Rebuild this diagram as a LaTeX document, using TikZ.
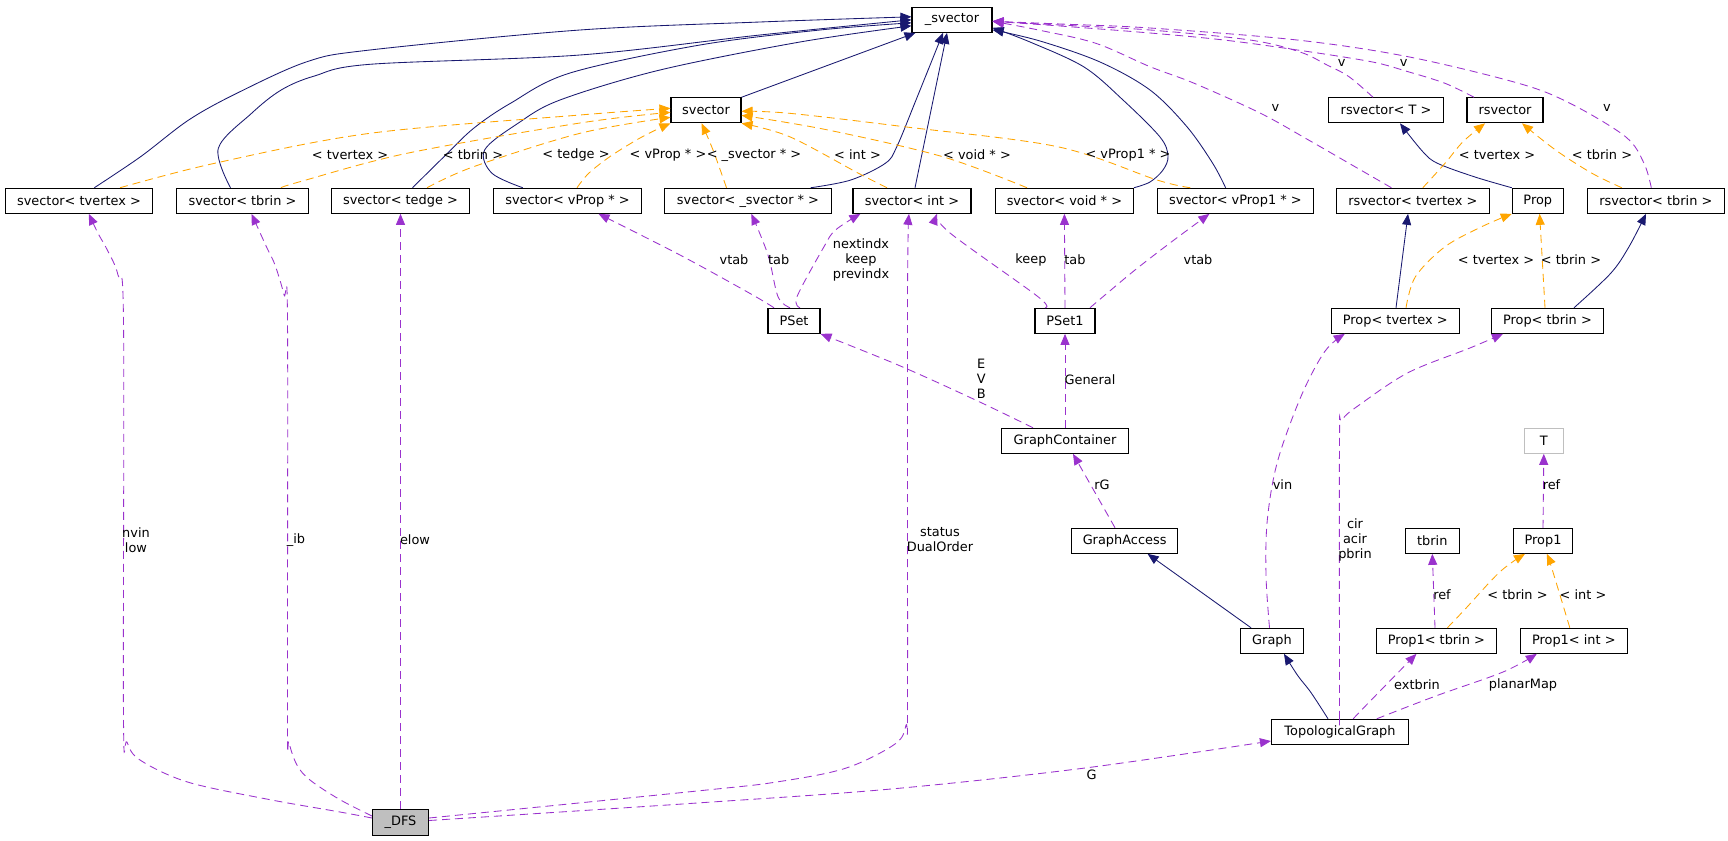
\documentclass[tikz,border=0pt]{standalone}
\usepackage{fontspec}
\setmainfont{DejaVu Sans}
\usetikzlibrary{arrows.meta}
\definecolor{inhc}{HTML}{191970}
\definecolor{tplc}{HTML}{FFA500}
\definecolor{usec}{HTML}{9A32CD}
\definecolor{grayc}{HTML}{BFBFBF}
\begin{document}
\begin{tikzpicture}[x=1pt,y=-1pt,
 cls/.style={draw=black,line width=1.1pt,minimum height=25pt,inner sep=0pt,font=\fontsize{12.9}{15}\selectfont},
 lbl/.style={font=\fontsize{12.9}{15}\selectfont,inner sep=0pt,align=center},
 inh/.style={draw=inhc,line width=0.85pt,-{Triangle[length=11pt,width=9pt]}},
 tpl/.style={draw=tplc,line width=0.85pt,dash pattern=on 8pt off 5pt,-{Triangle[length=11pt,width=9pt]}},
 use/.style={draw=usec,line width=0.85pt,dash pattern=on 8pt off 5pt,-{Triangle[length=11pt,width=9pt]}},
 sm/.style={smooth,tension=0.55}
]
\useasboundingbox[fill=white] (0,0) rectangle (1728,840);
% nodes
\node[cls,minimum width=80pt] (svec) at (952,19.8) {\_svector};
\node[cls,minimum width=70pt] (sv) at (706,110.3) {svector};
\node[cls,minimum width=115pt] (rsT) at (1386,110.3) {rsvector< T >};
\node[cls,minimum width=76pt] (rs) at (1505,110.3) {rsvector};
\node[cls,minimum width=147pt] (svtv) at (79,200.8) {svector< tvertex >};
\node[cls,minimum width=132pt] (svtb) at (242.5,200.8) {svector< tbrin >};
\node[cls,minimum width=138pt] (svte) at (400.5,200.8) {svector< tedge >};
\node[cls,minimum width=148pt] (svvp) at (567.5,200.8) {svector< vProp * >};
\node[cls,minimum width=167pt] (svsv) at (748,200.8) {svector< \_svector * >};
\node[cls,minimum width=118pt] (svint) at (912,200.8) {svector< int >};
\node[cls,minimum width=138pt] (svvoid) at (1064.4,200.8) {svector< void * >};
\node[cls,minimum width=156pt] (svvp1) at (1235.4,200.8) {svector< vProp1 * >};
\node[cls,minimum width=152.6pt] (rstv) at (1412.8,200.8) {rsvector< tvertex >};
\node[cls,minimum width=51pt] (prop) at (1537.8,200.8) {Prop};
\node[cls,minimum width=137pt] (rstb) at (1655.8,200.8) {rsvector< tbrin >};
\node[cls,minimum width=52pt] (pset) at (794,320.8) {PSet};
\node[cls,minimum width=60pt] (pset1) at (1065,320.8) {PSet1};
\node[cls,minimum width=128pt] (proptv) at (1395.3,320.8) {Prop< tvertex >};
\node[cls,minimum width=112pt] (proptb) at (1547.4,320.8) {Prop< tbrin >};
\node[cls,minimum width=127pt] (gc) at (1065,440.8) {GraphContainer};
\node[cls,draw=grayc,minimum width=39pt] (T) at (1543.8,440.8) {T};
\node[cls,minimum width=106pt] (ga) at (1124.6,540.8) {GraphAccess};
\node[cls,minimum width=54pt] (tbrin) at (1432.3,540.8) {tbrin};
\node[cls,minimum width=59pt] (prop1) at (1543,540.8) {Prop1};
\node[cls,minimum width=63pt] (graph) at (1272,640.8) {Graph};
\node[cls,minimum width=120pt] (p1tb) at (1436.4,640.8) {Prop1< tbrin >};
\node[cls,minimum width=107pt] (p1int) at (1573.8,640.8) {Prop1< int >};
\node[cls,minimum width=137pt] (tg) at (1340,731.8) {TopologicalGraph};
\node[cls,fill=grayc,minimum width=56pt,minimum height=26pt] (dfs) at (400.5,822.5) {\_DFS};
% inheritance (blue)
\draw[inh] plot[sm] coordinates {([xshift=15.3pt]svtv.north) (140.6,156.7) (188.7,120) (236.8,93.3) (307,61.7) (370,50) (580,30) (760,22) ([yshift=3pt]svec.west)};
\draw[inh] plot[sm] coordinates {([xshift=-12pt]svtb.north) (218.3,148.3) (251.6,113.3) (281.2,90) (314.5,76) (370,64.3) (580,55) (760,35) (svec.west)};
\draw[inh] plot[sm] coordinates {([xshift=12pt]svte.north) (444,156.7) (473.6,128.3) (510.5,103.3) (570,73) (700,45) (820,30) ([yshift=-3pt]svec.west)};
\draw[inh] plot[sm] coordinates {([xshift=-44.7pt]svvp.north) (492,173.3) (484.6,150) (518,123.3) (560,100) (660,70) (800,42) ([yshift=-6pt]svec.west)};
\draw[inh] (sv.north east) -- ([xshift=4pt]svec.south west);
\draw[inh] plot[sm] coordinates {([xshift=62.7pt]svsv.north) (850.8,180) (885.3,163.3) (896.8,146.7) (916,100) ([xshift=-9pt]svec.south)};
\draw[inh] ([xshift=3pt]svint.north) -- ([xshift=-5pt]svec.south);
\draw[inh] plot[sm] coordinates {(svvoid.north east) (1150,182) (1163,170) (1168,156) (1160,137) (1123,100) (1084,67) (1030,42) ([yshift=-8pt]svec.east)};
\draw[inh] plot[sm] coordinates {([xshift=-9.8pt]svvp1.north) (1212.7,163.3) (1186.9,126.7) (1150,90) (1100,62) (1040,41) ([yshift=-10pt]svec.east)};
\draw[inh] plot[sm] coordinates {(prop.north west) (1474,176.7) (1437.5,163.3) (1422.8,151.7) ([xshift=14pt]rsT.south)};
\draw[inh] ([xshift=0.7pt]proptv.north) -- ([xshift=-4.8pt]rstv.south);
\draw[inh] plot[sm] coordinates {([xshift=26.6pt]proptb.north) (1610.7,273.3) (1629,246.7) ([xshift=-9.8pt]rstb.south)};
\draw[inh] ([xshift=-21pt]graph.north) -- ([xshift=23pt]ga.south);
\draw[inh] plot[sm] coordinates {([xshift=-12pt]tg.north) (1311,692.6) (1297.6,675.4) ([xshift=12pt]graph.south)};
% template instances (orange)
\draw[tpl] plot[sm] coordinates {([xshift=41pt]svtv.north) (214.6,163.3) (370,133.3) (580,115) ([yshift=2pt]sv.west)};
\draw[tpl] plot[sm] coordinates {([xshift=38.5pt]svtb.north) (300,181.7) (407,153.3) (580,123) ([yshift=-2pt]sv.west)};
\draw[tpl] plot[sm] coordinates {([xshift=26.5pt]svte.north) (473.6,166.7) (580,133.3) ([yshift=-7pt]sv.west)};
\draw[tpl] plot[sm] coordinates {([xshift=9.5pt]svvp.north) (588.7,173.3) (609.8,156.7) (636.5,140) (655.7,130) (sv.south west)};
\draw[tpl] plot[sm] coordinates {([xshift=-21.5pt]svsv.north) (713,150) ([xshift=-4.4pt]sv.south)};
\draw[tpl] plot[sm] coordinates {([xshift=-25pt]svint.north) (858.5,173.3) (789.6,136.7) (sv.south east)};
\draw[tpl] plot[sm] coordinates {([xshift=-37.4pt]svvoid.north) (942.7,156.7) (828,130) ([yshift=-5pt]sv.east)};
\draw[tpl] plot[sm] coordinates {([xshift=-45pt]svvp1.north) (1157,180) (1057.5,146.7) (904,126.7) (789.6,113.3) ([yshift=-1pt]sv.east)};
\draw[tpl] plot[sm] coordinates {([xshift=10pt]rstv.north) (1445,163.3) (1463,141.7) ([xshift=-20pt]rs.south)};
\draw[tpl] plot[sm] coordinates {([xshift=-34pt]rstb.north) (1592,173.3) (1555.5,150) ([xshift=17pt]rs.south)};
\draw[tpl] plot[sm] coordinates {([xshift=10.7pt]proptv.north) (1415.4,276.7) (1445,246.7) (1481.7,226.7) (prop.south west)};
\draw[tpl] ([xshift=-2.4pt]proptb.north) -- ([xshift=1.8pt]prop.south);
\draw[tpl] plot[sm] coordinates {([xshift=11pt]p1tb.north) (1464.3,610) (1499.7,572) ([xshift=-18pt]prop1.south)};
\draw[tpl] plot[sm] coordinates {([xshift=-4pt]p1int.north) (1551.9,568.6) ([xshift=3.8pt]prop1.south)};
% usage (purple)
\draw[use] plot[sm] coordinates {([xshift=-13pt]rsT.north) (1349,76.7) (1327,65) (1300,52) (1250,40) (1150,30) (1060,25) ([yshift=-1.5pt]svec.east)};
\draw[use] plot[sm] coordinates {([xshift=-31pt]rs.north) (1445,83.3) (1408,71.7) (1371,61.7) (1297.4,50) (1223.7,40) (1150,33) (1060,26) ([yshift=-1.5pt]svec.east)};
\draw[use] plot[sm] coordinates {([xshift=-4.5pt]rstb.north) (1644,163.3) (1625.5,136.7) (1570,103.3) (1518.6,83.3) (1408,56.7) (1297,40) (1150,28) (1060,24) ([yshift=-1.5pt]svec.east)};
\draw[use] plot[sm] coordinates {([xshift=-21.4pt]rstv.north) (1349,163.3) (1308.5,140) (1260.6,113.3) (1194.2,83.3) (1150,66.7) (1095.8,43.3) (1038.4,30) ([yshift=-1.5pt]svec.east)};
\draw[use] plot[sm] coordinates {([xshift=-20pt]pset.north) (751,294) (680,255) ([xshift=31pt]svvp.south)};
\draw[use] plot[sm] coordinates {([xshift=-4pt]pset.north) (778,296.7) (768,255) ([xshift=3.4pt]svsv.south)};
\draw[use] plot[sm] coordinates {([xshift=6pt]pset.north) (797,296.7) (824,246.7) (835.5,230) ([xshift=-51.6pt]svint.south)};
\draw[use] plot[sm] coordinates {([xshift=-20pt]pset1.north) (1038,296.7) (950,233) ([xshift=25pt]svint.south)};
\draw[use] (pset1.north) -- (svvoid.south);
\draw[use] plot[sm] coordinates {([xshift=25pt]pset1.north) (1103,296.7) (1135,270) (1170,243) ([xshift=-26pt]svvp1.south)};
\draw[use] plot[sm] coordinates {([xshift=-32pt]gc.north) (975.5,400) (899,365.4) (pset.south east)};
\draw[use] (gc.north) -- (pset1.south);
\draw[use] ([xshift=-9.6pt]ga.north) -- ([xshift=8pt]gc.south);
\draw[use] plot[sm] coordinates {([xshift=-2.5pt]graph.north) (1266,575.5) (1267.3,520) (1277.4,461.8) (1301,396.4) (1324.6,351.7) ([xshift=-50.5pt]proptv.south)};
\draw[use] plot[sm] coordinates {([yshift=4.5pt]dfs.west) (340,812) (268,799.3) (187.5,782) (140,760) (127,742) (123.5,718) (123.5,320) (118,275) (107.3,250) (98,233.3) ([xshift=9.8pt]svtv.south)};
\draw[use] plot[sm] coordinates {([yshift=6.5pt]dfs.west) (339.3,799.3) (310,780) (296.9,764.9) (289,742) (287.5,718) (287.5,320) (284,295) (275,265) (266.4,246.7) ([xshift=9pt]svtb.south)};
\draw[use] (dfs.north) -- (svte.south);
\draw[use] plot[sm] coordinates {([yshift=4.5pt]dfs.east) (700,790.7) (776.5,782) (845.4,768.3) (895,744) (906,725) (907.5,700) (907.5,300) ([xshift=-3pt]svint.south)};
\draw[use] plot[sm] coordinates {([yshift=2pt]dfs.east) (700,802.8) (891,789) (1082.7,768.3) ([yshift=-9.2pt]tg.west)};
\draw[use] plot[sm] coordinates {([xshift=-0.5pt]tg.north) (1339.5,700) (1339.5,440) (1342,420) (1361.6,403.3) (1408.8,372.3) (1469.4,348.2) ([xshift=-44.4pt]proptb.south)};
\draw[use] plot[sm] coordinates {([xshift=13.2pt]tg.north) (1368.4,702.9) ([xshift=-20pt]p1tb.south)};
\draw[use] plot[sm] coordinates {([xshift=36.8pt]tg.north) (1435.7,696) (1503,672) ([xshift=-37pt]p1int.south)};
\draw[use] ([xshift=-1.4pt]p1tb.north) -- (tbrin.south);
\draw[use] (prop1.north) -- (T.south);
% labels
\node[lbl] (l1) at (350,155) {< tvertex >};
\node[lbl] (l2) at (473,155) {< tbrin >};
\node[lbl] (l3) at (576,155) {< tedge >};
\node[lbl] (l4) at (668,155) {< vProp * >};
\node[lbl] (l5) at (754,155) {< \_svector * >};
\node[lbl] (l6) at (857.5,155) {< int >};
\node[lbl] (l7) at (977,155) {< void * >};
\node[lbl] (l8) at (1128,155) {< vProp1 * >};
\node[lbl] (l9) at (1497,155) {< tvertex >};
\node[lbl] (l10) at (1602,155) {< tbrin >};
\node[lbl] (l11) at (1496,260) {< tvertex >};
\node[lbl] (l12) at (1571,260) {< tbrin >};
\node[lbl] (l13) at (1517.5,594.4) {< tbrin >};
\node[lbl] (l14) at (1583,594.4) {< int >};
\node[lbl] (v1) at (1341.7,63.3) {v};
\node[lbl] (v2) at (1403.6,63.3) {v};
\node[lbl] (v3) at (1275.3,108.3) {v};
\node[lbl] (v4) at (1607,108.3) {v};
\node[lbl] (u1) at (734,260) {vtab};
\node[lbl] (u2) at (778.7,260) {tab};
\node[lbl] (u3) at (861,260) {nextindx\\keep\\previndx};
\node[lbl] (u4) at (1031,260) {keep};
\node[lbl] (u5) at (1075,260) {tab};
\node[lbl] (u6) at (1198,260) {vtab};
\node[lbl] (u7) at (981.3,379.2) {E\\V\\B};
\node[lbl] (u8) at (1090,380) {General};
\node[lbl] (u9) at (1102,485) {rG};
\node[lbl] (u10) at (1282.5,485) {vin};
\node[lbl] (u11) at (136,540) {nvin\\low};
\node[lbl] (u12) at (296,540) {\_ib};
\node[lbl] (u13) at (415,540) {elow};
\node[lbl] (u14) at (940,540) {status\\DualOrder};
\node[lbl] (u15) at (1091.5,775) {G};
\node[lbl] (u16) at (1355,540) {cir\\acir\\pbrin};
\node[lbl] (u17) at (1417,684.6) {extbrin};
\node[lbl] (u18) at (1523,684.6) {planarMap};
\node[lbl] (u19) at (1442,594.4) {ref};
\node[lbl] (u20) at (1551.5,485) {ref};
\end{tikzpicture}
\end{document}
